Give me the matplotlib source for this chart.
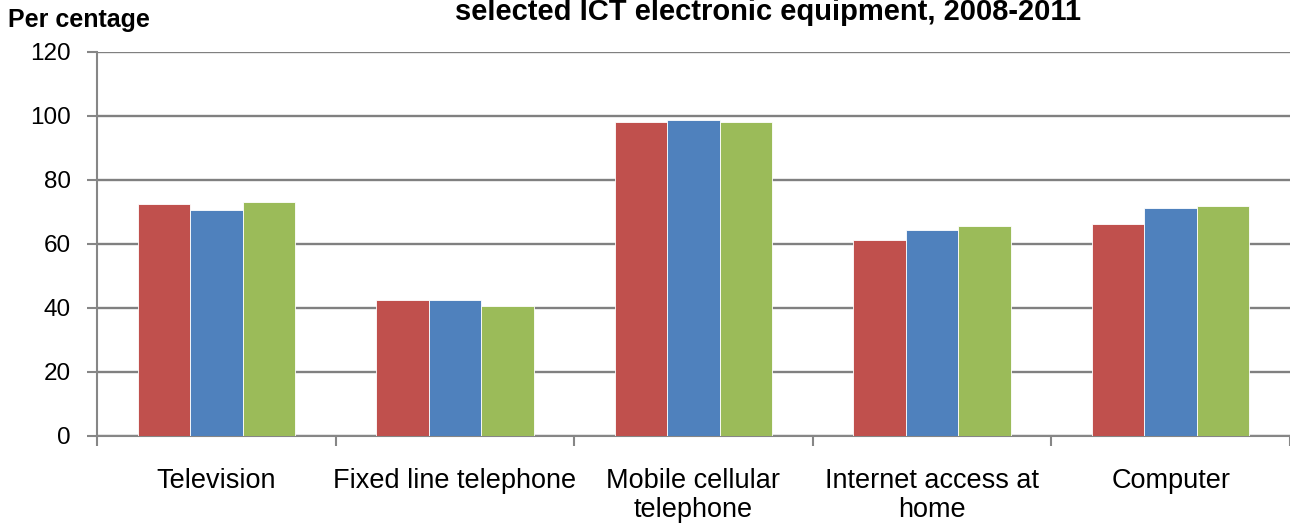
import matplotlib
matplotlib.use("Agg")
import matplotlib.pyplot as plt
import numpy as np

categories = ["Television", "Fixed line telephone", "Mobile cellular\ntelephone",
              "Internet access at\nhome", "Computer"]
series_a = [72.5, 42.6, 98.0, 61.3, 66.3]
series_b = [70.6, 42.6, 98.7, 64.4, 71.3]
series_c = [73.1, 40.7, 98.0, 65.7, 71.9]
colors = ["#C0504D", "#4F81BD", "#9BBB59"]
yticks = [0, 20, 40, 60, 80, 100, 120]

plt.rcParams['font.family'] = ['Liberation Sans', 'DejaVu Sans']

fig = plt.figure(figsize=(12.90, 5.27), dpi=100)
ax = fig.add_axes([97/1290, (527-436)/527, 1 - 97/1290, (436-52)/527])

x = np.arange(len(categories))
w = 0.22
for i, (vals, c) in enumerate(zip([series_a, series_b, series_c], colors)):
    ax.bar(x + (i - 1) * w, vals, width=w, color=c, edgecolor="white",
           linewidth=0.6, zorder=3)

ax.set_xlim(-0.5, len(categories) - 0.5)
ax.set_ylim(0, 120)
ax.set_yticks(yticks)
ax.set_yticklabels([str(v) for v in yticks], fontsize=17.5)
ax.yaxis.grid(True, color="#808080", linewidth=1.7, zorder=0)
ax.set_axisbelow(True)

ax.set_xticks(np.arange(len(categories) + 1) - 0.5)
ax.set_xticklabels([])
ax.set_xticks(x, minor=True)
ax.set_xticklabels(categories, minor=True, fontsize=19.5, linespacing=1.15, va="top")
ax.tick_params(axis="x", which="minor", length=0, pad=23)
ax.tick_params(axis="x", which="major", length=7, color="#868686", width=1.5, direction="out")
ax.tick_params(axis="y", length=7, color="#868686", width=1.5, direction="out", pad=12)

for s in ["top", "right"]:
    ax.spines[s].set_visible(False)
for s in ["left", "bottom"]:
    ax.spines[s].set_color("#868686")
    ax.spines[s].set_linewidth(1.5)

fig.text(8/1290, 1 - 27/527, "Per centage", fontsize=18, fontweight="bold",
         ha="left", va="baseline")
fig.text(768/1290, 1 - 20/527, "selected ICT electronic equipment, 2008-2011",
         fontsize=21, fontweight="bold", ha="center", va="baseline")

fig.savefig("out.png", dpi=100)
